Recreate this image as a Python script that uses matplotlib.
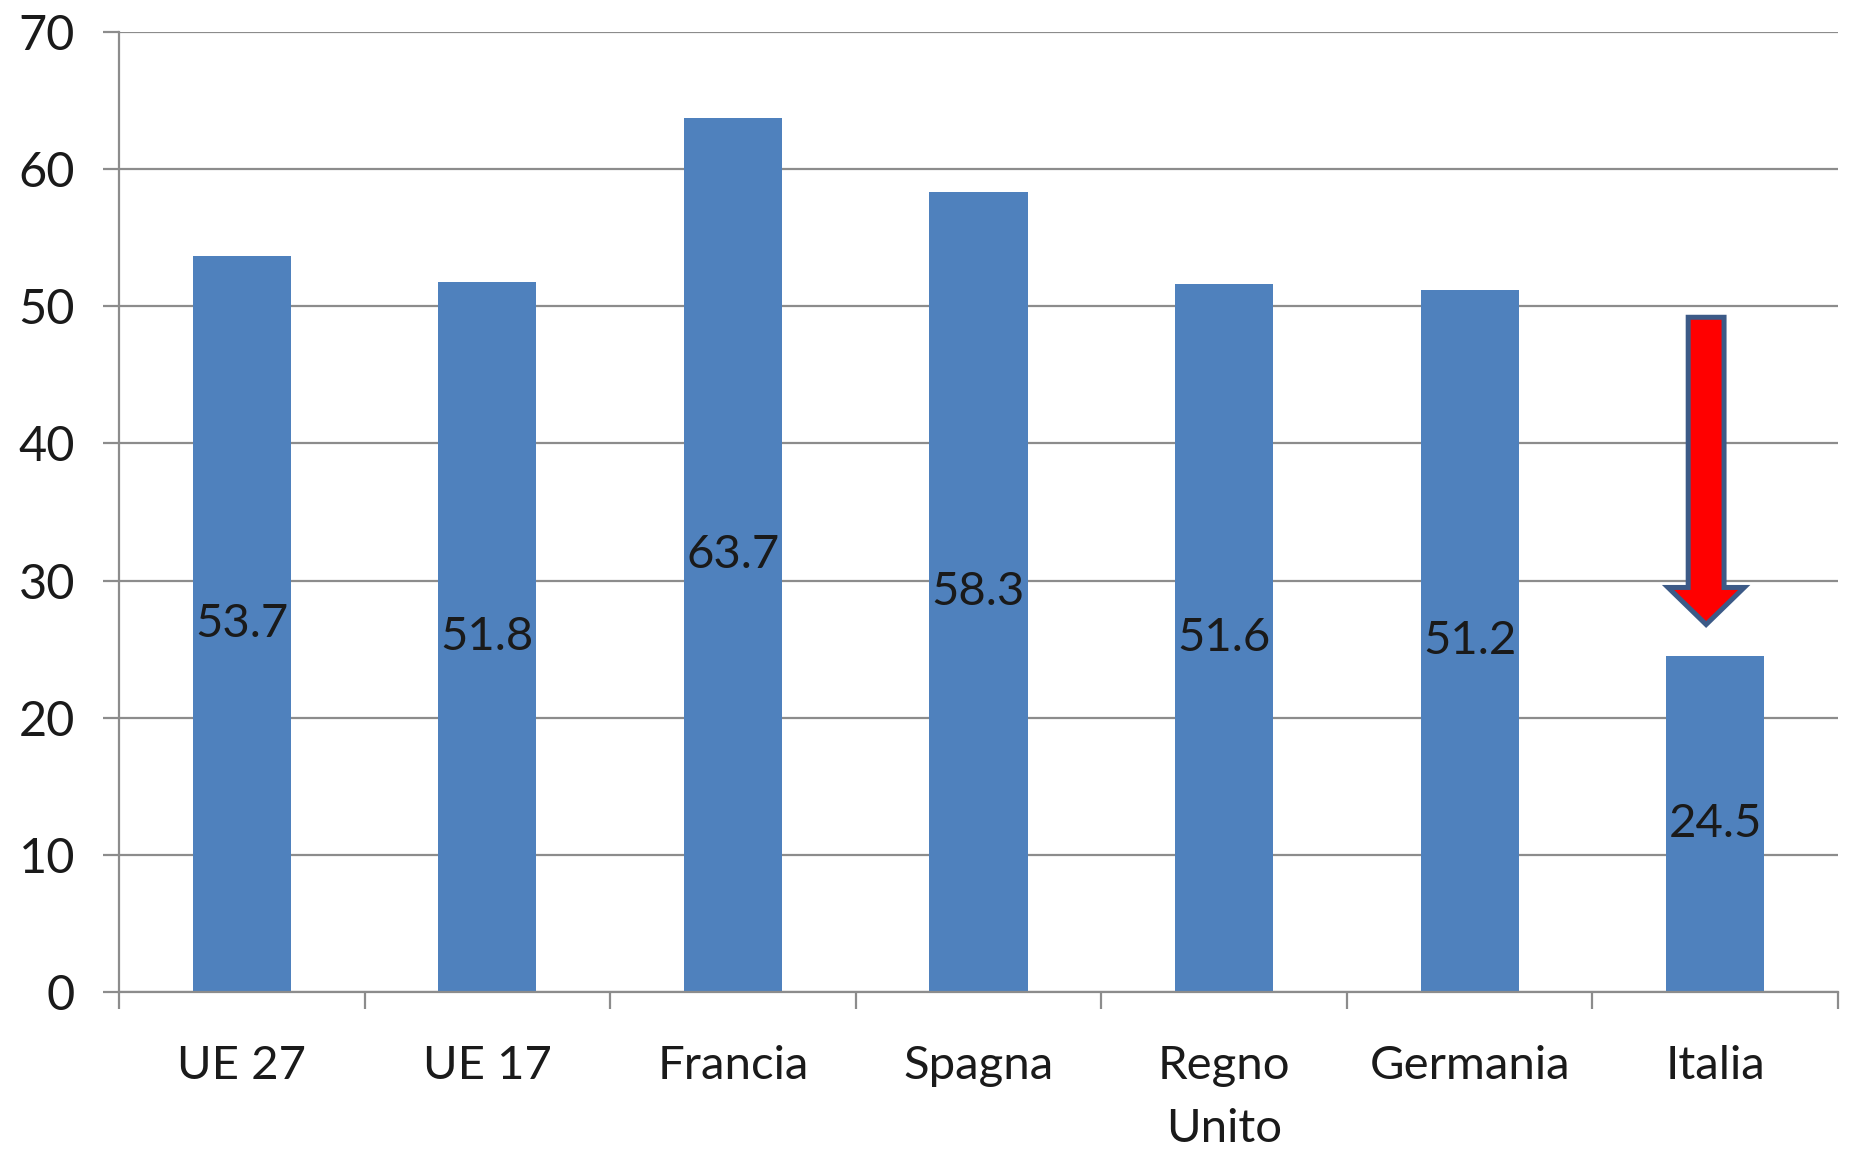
import matplotlib.pyplot as plt
import matplotlib.patches as mpatches
import numpy as np

# valori
paesi = ['UE 27', 'UE 17', 'Francia', 'Spagna', 'Regno\nUnito', 'Germania', 'Italia']
valori = [53.7, 51.8, 63.7, 58.3, 51.6, 51.2, 24.5]
yticks = [0, 10, 20, 30, 40, 50, 60, 70]

bar_color = '#4F81BD'
grid_color = '#8C8C8C'
txt_color = '#1A1A1A'

plt.rcParams['font.family'] = ['Lato', 'DejaVu Sans']

fig = plt.figure(figsize=(18.56, 11.51), dpi=100)
ax = fig.add_axes([0.0641, 0.1381, 0.9262, 0.8341])

x = np.arange(len(paesi))
bars = ax.bar(x, valori, width=0.4, color=bar_color, zorder=3)

# etichette dentro le barre, al centro
for xi, v in zip(x, valori):
    ax.text(xi, v / 2, f'{v:.1f}', ha='center', va='center',
            fontsize=34, color=txt_color, zorder=4)

ax.set_xlim(-0.5, len(paesi) - 0.5)
ax.set_ylim(0, 70)
ax.set_yticks(yticks)
ax.set_yticklabels([str(t) for t in yticks])
ax.yaxis.grid(True, color=grid_color, linewidth=1.6, zorder=0)
ax.set_axisbelow(True)

ax.set_xticks(x)
ax.set_xticklabels(paesi, linespacing=1.62)
ax.set_xticks(np.arange(-0.5, len(paesi), 1.0), minor=True)
ax.tick_params(axis='x', which='major', length=0, pad=38, labelsize=34, labelcolor=txt_color)
ax.tick_params(axis='x', which='minor', length=12, width=1.6, color=grid_color, direction='out')
ax.tick_params(axis='y', length=11.5, width=1.6, color=grid_color, pad=20, labelsize=35, labelcolor=txt_color)

for s in ['top', 'right']:
    ax.spines[s].set_visible(False)
for s in ['left', 'bottom']:
    ax.spines[s].set_color(grid_color)
    ax.spines[s].set_linewidth(1.6)
ax.spines['bottom'].set_zorder(5)

# freccia rossa sopra l'Italia
i_it = paesi.index('Italia')
top = 49.2
tip = valori[i_it] + 2.3
arr = mpatches.FancyArrow(i_it - 0.037, top, 0, tip - top, width=0.146,
                          head_width=0.31, head_length=2.7, length_includes_head=True,
                          facecolor='#FF0000', edgecolor='#3C5A87', linewidth=3.6, zorder=6)
ax.add_patch(arr)

plt.savefig('out.png', dpi=100)
